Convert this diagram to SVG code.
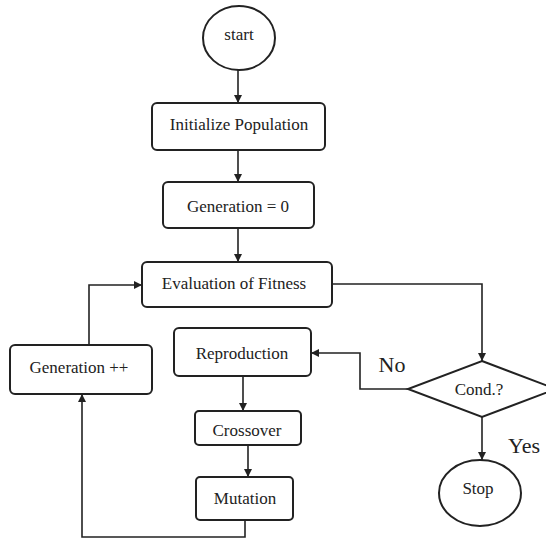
<svg xmlns="http://www.w3.org/2000/svg" width="546" height="540" viewBox="0 0 546 540">
<style>
.b{fill:#fff;stroke:#222;stroke-width:2}
.t{font-family:"Liberation Serif",serif;font-size:17px;fill:#222;text-anchor:middle;dominant-baseline:central}
.l{font-family:"Liberation Serif",serif;font-size:22px;fill:#222;text-anchor:middle;dominant-baseline:central}
.c{fill:none;stroke:#222;stroke-width:1.6}
</style>
<defs>
<marker id="a" viewBox="0 0 10 10" refX="10" refY="5" markerWidth="9" markerHeight="8" orient="auto" markerUnits="userSpaceOnUse">
<path d="M0,0 L10,5 L0,10 z" fill="#222"/>
</marker>
</defs>
<rect width="546" height="540" fill="#fff"/>
<g id="connectors">
<path class="c" d="M238,70 V103" marker-end="url(#a)"/>
<path class="c" d="M238,150 V182" marker-end="url(#a)"/>
<path class="c" d="M238,228 V262" marker-end="url(#a)"/>
<path class="c" d="M332,284 H482 V361" marker-end="url(#a)"/>
<path class="c" d="M408,389 H360 V353 H311" marker-end="url(#a)"/>
<path class="c" d="M243,376 V411" marker-end="url(#a)"/>
<path class="c" d="M248,445 V477" marker-end="url(#a)"/>
<path class="c" d="M245,520 V537 H82 V394" marker-end="url(#a)"/>
<path class="c" d="M89,345 V285 H142" marker-end="url(#a)"/>
<path class="c" d="M482,417 V460" marker-end="url(#a)"/>
</g>
<g id="start"><ellipse class="b" cx="239" cy="38" rx="36" ry="32"/><text class="t" x="239" y="34">start</text></g>
<g id="init"><rect class="b" x="152" y="103" width="173" height="47" rx="5"/><text class="t" x="239" y="124">Initialize Population</text></g>
<g id="gen0"><rect class="b" x="163" y="182" width="151" height="46" rx="5"/><text class="t" x="238" y="206">Generation = 0</text></g>
<g id="eval"><rect class="b" x="142" y="262" width="190" height="45" rx="5"/><text class="t" x="234" y="283">Evaluation of Fitness</text></g>
<g id="cond"><polygon class="b" points="482,361 556,389 482,417 408,389"/><text class="t" x="479" y="389">Cond.?</text></g>
<g id="stop"><ellipse class="b" cx="480" cy="493" rx="41" ry="33"/><text class="t" x="478" y="488">Stop</text></g>
<g id="repro"><rect class="b" x="174" y="328" width="137" height="48" rx="5"/><text class="t" x="242" y="353">Reproduction</text></g>
<g id="cross"><rect class="b" x="195" y="411" width="106" height="34" rx="4"/><text class="t" x="247" y="430">Crossover</text></g>
<g id="mut"><rect class="b" x="196" y="477" width="97" height="43" rx="4"/><text class="t" x="245" y="498">Mutation</text></g>
<g id="genpp"><rect class="b" x="10" y="345" width="142" height="49" rx="5"/><text class="t" x="79" y="367">Generation ++</text></g>
<text class="l" x="392" y="364">No</text>
<text class="l" x="524" y="445">Yes</text>
</svg>
